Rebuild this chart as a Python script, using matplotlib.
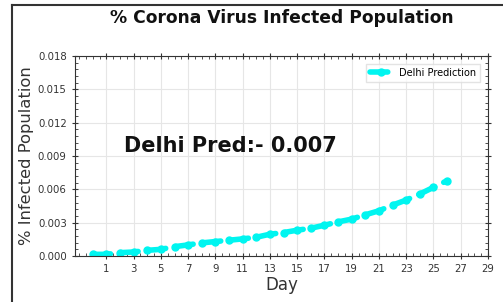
import matplotlib
matplotlib.use("Agg")
import matplotlib.pyplot as plt
from matplotlib.lines import Line2D
from matplotlib.ticker import AutoMinorLocator

days = list(range(27))
delhi_pred = [0.00015, 0.00015, 0.00030, 0.00036, 0.00051, 0.00060, 0.00084,
              0.00100, 0.00118, 0.00130, 0.00142, 0.00154, 0.00169, 0.00196,
              0.00211, 0.00232, 0.00250, 0.00277, 0.00307, 0.00332, 0.00371,
              0.00407, 0.00458, 0.00504, 0.00558, 0.00618, 0.00678]
x_ticks = list(range(1, 30, 2))
y_ticks = [0.000, 0.003, 0.006, 0.009, 0.012, 0.015, 0.018]
title = "% Corona Virus Infected Population"
annotation = "Delhi Pred:- 0.007"

fig = plt.figure(figsize=(5.03, 3.02), dpi=100)
ax = fig.add_axes([75/503, 1-256/302, (488-75)/503, (256-56)/302])

ax.plot(days, delhi_pred, color="#00f5f0", linestyle="--", linewidth=4,
        dashes=(3.2, 1.8), marker="o", markersize=5,
        dash_capstyle="round", label="Delhi Prediction")

ax.set_xlim(-1.3, 29)
ax.set_ylim(0, 0.018)
ax.set_xticks(x_ticks)
ax.set_yticks(y_ticks)
ax.set_yticklabels([f"{v:.3f}" for v in y_ticks])
ax.xaxis.set_minor_locator(AutoMinorLocator(4))
ax.yaxis.set_minor_locator(AutoMinorLocator(5))
ax.tick_params(which="major", direction="inout", length=5, labelsize=7.3,
               colors="#333333", top=True, right=True)
ax.tick_params(which="minor", direction="in", length=2.5, top=True, right=True,
               colors="#333333")
ax.grid(True, which="major", color="#e6e6e6", linewidth=0.8)
for s in ax.spines.values():
    s.set_color("#333333")
    s.set_linewidth(0.8)

ax.set_xlabel("Day", fontsize=12, color="#333333", labelpad=1)
ax.set_ylabel("% Infected Population", fontsize=11.8, color="#333333", labelpad=3)
fig.text(282/503, 1-18/302, title, ha="center", va="center",
         fontsize=12.3, fontweight="bold", color="#111111")
ax.text(2.3, 0.0099, annotation, fontsize=15, fontweight="bold",
        va="center", ha="left", color="#111111")

leg = ax.legend(loc="upper right", fontsize=7, handlelength=2.2,
                frameon=True, fancybox=False, edgecolor="#dddddd",
                borderaxespad=0.8)

fig.add_artist(Line2D([12/503, 1], [1-5/302, 1-5/302], color="#333333",
                      linewidth=1.5, transform=fig.transFigure))
fig.add_artist(Line2D([12/503, 12/503], [0, 1-5/302], color="#333333",
                      linewidth=1.5, transform=fig.transFigure))

fig.savefig("out.png", dpi=100)
